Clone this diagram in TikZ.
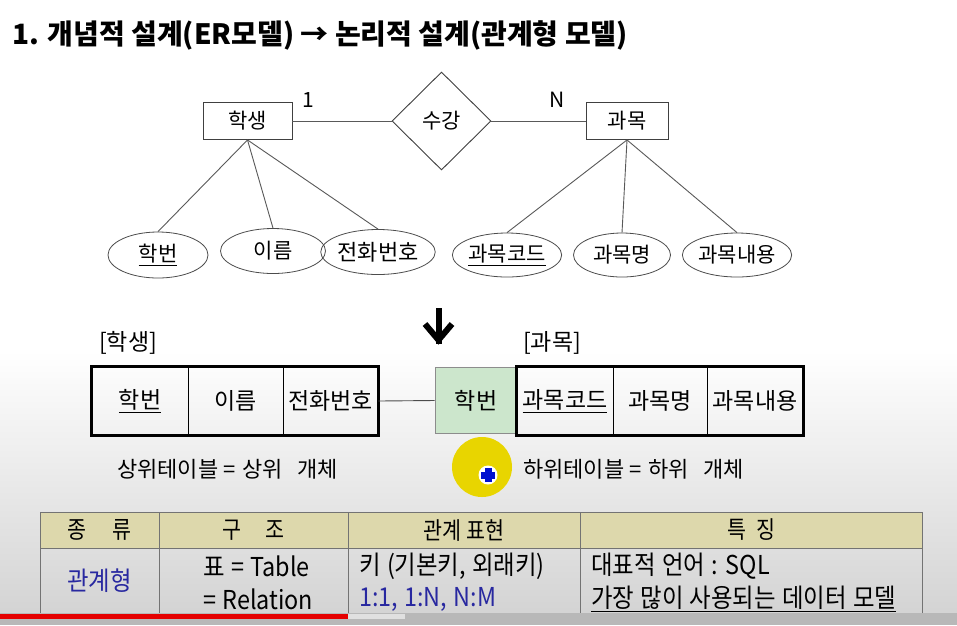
\documentclass[tikz,border=0pt]{standalone}
\usepackage{fontspec}
\setmainfont{Noto Sans CJK KR}
\newfontfamily\krc{Noto Sans CJK KR}[FakeStretch=0.86]
\newfontfamily\krd{Noto Sans CJK KR}[FakeStretch=0.9, WordSpace=1.2]
\usetikzlibrary{shapes.geometric}
\definecolor{hdr}{RGB}{221,216,172}
\definecolor{kblue}{RGB}{40,40,160}
\definecolor{gcell}{RGB}{204,230,204}
\definecolor{yel}{RGB}{232,213,0}
\definecolor{curblue}{RGB}{0,16,208}
\begin{document}
\begin{tikzpicture}[x=1pt,y=-1pt,
  erfont/.style={font=\fontsize{21}{23}\selectfont},
  entbox/.style={draw=black!75, line width=0.9pt, minimum height=37, inner sep=0, erfont},
  attr/.style={draw=black!70, line width=0.8pt, ellipse, inner sep=0, erfont},
  erline/.style={draw=black!65, line width=0.9pt},
  tcell/.style={draw=black, line width=0.8pt, minimum height=68, inner sep=0, font=\fontsize{23}{25}\selectfont},
  thick3/.style={draw=black, line width=3pt},
  plain/.style={inner sep=0, font=\fontsize{23}{25}\selectfont},
  hcell/.style={draw=black!55, line width=1pt, fill=hdr, minimum height=36, inner sep=0, font=\krc\fontsize{24}{26}\selectfont},
  rcell/.style={draw=black!55, line width=1pt, minimum height=65, inner sep=0, font=\krd\fontsize{26}{28}\selectfont},
  rtext/.style={anchor=west, inner sep=0, font=\krd\fontsize{26}{28}\selectfont}
]
\path[use as bounding box] (0,0) rectangle (957,625);
% background
\fill[white] (0,0) rectangle (957,350);
\shade[top color=white, bottom color=black!17] (0,350) rectangle (957,613);

% title
\node[anchor=west, inner sep=0, font=\fontsize{28}{30}\selectfont\bfseries] (title) at (12,35) {1. 개념적 설계(ER모델) → 논리적 설계(관계형 모델)};

% ER diagram
\node[entbox, minimum width=89] (stu) at (247.5,121) {학생};
\node[draw=black!75, line width=0.9pt, diamond, minimum width=99, minimum height=98, inner sep=0, erfont] (rel) at (441.5,121) {수강};
\node[entbox, minimum width=82] (sub) at (627,121) {과목};
\node[erfont, inner sep=0] (one) at (308,100) {1};
\node[erfont, inner sep=0] (en) at (557,100) {N};
\draw[erline] (stu.east) -- (rel.west);
\draw[erline] (rel.east) -- (sub.west);

\node[attr, minimum width=100, minimum height=46] (a1) at (158,255) {\underline{학번}};
\node[attr, minimum width=105, minimum height=45] (a2) at (273,251) {이름};
\node[attr, minimum width=100, minimum height=45, font=\fontsize{22}{24}\selectfont] (a3) at (378,252) {전화번호};
\draw[erline] (stu.south) -- (a1.north);
\draw[erline] (stu.south) -- (a2.north);
\draw[erline] (stu.south) -- (a3.north);

\node[attr, minimum width=93, minimum height=44] (b1) at (507,255) {\underline{과목코드}};
\node[attr, minimum width=97, minimum height=44] (b2) at (622,255) {과목명};
\node[attr, minimum width=99, minimum height=44] (b3) at (737,255) {과목내용};
\draw[erline] (sub.south) -- (b1.north);
\draw[erline] (sub.south) -- (b2.north);
\draw[erline] (sub.south) -- (b3.north);

% down arrow
\coordinate (arrtop) at (438.5,308);
\coordinate (arrtip) at (438.5,340);
\draw[line width=6pt] (arrtop) -- ([yshift=-4]arrtip);
\draw[line width=6pt, line join=miter, miter limit=10] (425,324) -- (arrtip) -- (452,324);

% relational tables
\node[plain, anchor=west] (lstu) at (99,343) {[학생]};
\node[plain, anchor=west] (lsub) at (523,343) {[과목]};

\node[tcell, minimum width=96] (t1) at (140,401) {\underline{학번}};
\node[tcell, minimum width=95] (t2) at (235.5,401) {이름};
\node[tcell, minimum width=95] (t3) at (330.5,401) {전화번호};
\draw[thick3] (t1.north west) rectangle (t3.south east);

\node[draw=black!45, line width=0.8pt, fill=gcell, minimum width=82, minimum height=66, inner sep=0, font=\fontsize{23}{25}\selectfont] (g) at (476,400.5) {학번};
\draw[line width=0.9pt, black!70] (t3.east) -- (g.west);

\node[tcell, minimum width=96] (s1) at (565,401) {\underline{과목코드}};
\node[tcell, minimum width=94] (s2) at (660,401) {과목명};
\node[tcell, minimum width=96] (s3) at (755,401) {과목내용};
\draw[thick3] (s1.north west) rectangle (s3.south east);

\node[plain, anchor=west, font=\fontsize{22}{24}\selectfont] (up) at (117,469) {상위테이블\hspace{5pt}=\hspace{7pt}상위\hspace{14pt}개체};
\node[plain, anchor=west, font=\fontsize{22}{24}\selectfont] (down) at (523,469) {하위테이블\hspace{5pt}=\hspace{7pt}하위\hspace{14pt}개체};

% cursor highlight
\fill[yel] (482,467) circle (30);
\fill[white] (488,475) circle (9.5);
\fill[curblue] (484.5,468) rectangle (491.5,482);
\fill[curblue] (481,471.5) rectangle (495,478.5);

% bottom table
\node[hcell, minimum width=119] (h1) at (99.5,530) {종\hspace{26pt}류};
\node[hcell, minimum width=189] (h2) at (253.5,530) {구\hspace{24pt}조};
\node[hcell, minimum width=232] (h3) at (464,530) {관계 표현};
\node[hcell, minimum width=342] (h4) at (751,530) {특\hspace{10pt}징};
\node[rcell, minimum width=119, text=kblue] (r1) at (99.5,580.5) {관계형};
\node[rcell, minimum width=189] (r2) at (253.5,580.5) {};
\node[rcell, minimum width=232] (r3) at (464,580.5) {};
\node[rcell, minimum width=342] (r4) at (751,580.5) {};
\node[rtext] (r2a) at (203,566) {표 = Table};
\node[rtext] (r2b) at (203,599) {= Relation};
\node[rtext] (r3a) at (359,566) {키 (기본키, 외래키)};
\node[rtext, text=kblue] (r3b) at (359,599) {1:1, 1:N, N:M};
\node[rtext] (r4a) at (591,566) {대표적 언어 : SQL};
\node[rtext] (r4b) at (591,599) {\underline{가장 많이 사용되는 데이터 모델}};

% progress bar
\fill[black!28] (0,613) rectangle (957,625);
\fill[red!90!black] (0,614) rectangle (348,619);
\fill[black!12] (348,614) rectangle (405,619);
\end{tikzpicture}
\end{document}
